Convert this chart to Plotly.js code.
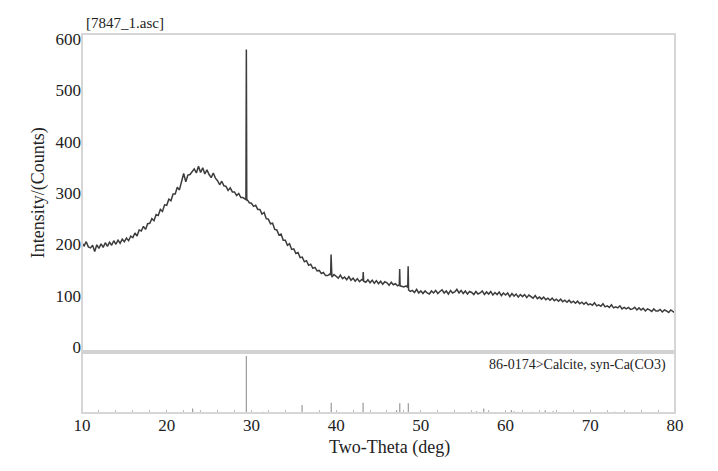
<!DOCTYPE html>
<html>
<head>
<meta charset="utf-8">
<script src="https://cdn.plot.ly/plotly-3.0.1.min.js"></script>
<style>html,body{margin:0;padding:0;background:#fff}#chart{width:718px;height:471px}</style>
</head>
<body>
<div id="chart"></div>
<script>
var twoTheta = [
  10,10.25,10.5,10.75, 11,11.25,11.5,11.75, 12,12.25,12.5,12.75, 13,13.25,13.5,13.75,
  14,14.25,14.5,14.75, 15,15.25,15.5,15.75, 16,16.25,16.5,16.75, 17,17.25,17.5,17.75,
  18,18.25,18.5,18.75, 19,19.25,19.5,19.75, 20,20.25,20.5,20.75, 21,21.25,21.5,21.75,
  22,22.25,22.5,22.75, 23,23.25,23.5,23.75, 24,24.25,24.5,24.75, 25,25.25,25.5,25.75,
  26,26.25,26.5,26.75, 27,27.25,27.5,27.75, 28,28.25,28.5,28.75,
  29,29.25,29.35,29.4,29.45,29.5,29.75,
  30,30.25,30.5,30.75, 31,31.25,31.5,31.75, 32,32.25,32.5,32.75, 33,33.25,33.5,33.75,
  34,34.25,34.5,34.75, 35,35.25,35.5,35.75, 36,36.25,36.5,36.75, 37,37.25,37.5,37.75,
  38,38.25,38.5,38.75,
  39,39.25,39.35,39.4,39.45,39.5,39.75,
  40,40.25,40.5,40.75, 41,41.25,41.5,41.75, 42,42.25,42.5,42.75,
  43,43.15,43.2,43.25,43.5,43.75,
  44,44.25,44.5,44.75, 45,45.25,45.5,45.75, 46,46.25,46.5,46.75,
  47,47.25,47.45,47.5,47.55,47.75,
  48,48.25,48.45,48.5,48.55,48.75,
  49,49.25,49.5,49.75, 50,50.25,50.5,50.75, 51,51.25,51.5,51.75, 52,52.25,52.5,52.75,
  53,53.25,53.5,53.75, 54,54.25,54.5,54.75, 55,55.25,55.5,55.75, 56,56.25,56.5,56.75,
  57,57.25,57.5,57.75, 58,58.25,58.5,58.75, 59,59.25,59.5,59.75, 60,60.25,60.5,60.75,
  61,61.25,61.5,61.75, 62,62.25,62.5,62.75, 63,63.25,63.5,63.75, 64,64.25,64.5,64.75,
  65,65.25,65.5,65.75, 66,66.25,66.5,66.75, 67,67.25,67.5,67.75, 68,68.25,68.5,68.75,
  69,69.25,69.5,69.75, 70,70.25,70.5,70.75, 71,71.25,71.5,71.75, 72,72.25,72.5,72.75,
  73,73.25,73.5,73.75, 74,74.25,74.5,74.75, 75,75.25,75.5,75.75, 76,76.25,76.5,76.75,
  77,77.25,77.5,77.75, 78,78.25,78.5,78.75, 79,79.25,79.5,79.75, 80];
var counts = [
  202,197,205,195, 193,198,186,199, 192,201,194,203, 196,204,198,207,
  200,208,202,210, 205,212,207,216, 213,222,216,228, 226,235,229,240,
  241,250,246,258, 256,268,264,277, 276,288,285,298, 298,311,306,322,
  338,322,335,336, 342,347,339,352, 340,349,337,345, 336,330,339,329,
  324,316,323,314, 313,305,310,302, 302,295,299,291,
  291,287,287,580,285,287,281,
  280,274,276,268, 268,259,262,250, 249,240,241,229, 228,218,220,208,
  208,198,201,190, 191,182,184,174, 175,166,168,159, 161,153,155,148,
  149,143,145,139,
  139,142,140,180,138,136,141,
  137,134,140,133, 136,131,137,130, 134,128,133,127,
  131,130,146,128,126,131,
  125,130,124,129, 123,128,122,127, 125,120,126,121,
  123,119,121,152,119,118,
  117,119,116,157,111,108,
  110,106,112,105, 109,104,109,105, 103,109,105,110, 104,108,111,105,
  109,103,110,105, 107,112,105,110, 104,109,103,108, 106,102,108,103,
  105,109,102,107, 103,108,101,106, 102,107,100,105, 101,105,98,104,
  99,103,97,102, 98,102,96,101, 98,95,100,94, 97,93,97,92,
  95,91,95,90, 93,89,93,88, 91,87,91,86, 89,85,89,84,
  87,83,87,82, 84,81,86,80, 82,79,84,78, 80,77,82,76,
  78,76,80,74, 77,74,77,73, 74,77,72,76, 72,75,70,74,
  72,69,74,70, 70,73,68,72, 70,67,72,68, 66];
// Reference pattern 86-0174 Calcite (2-theta, relative intensity)
var stickPos = [23.06,29.40,31.43,35.98,39.42,43.18,47.13,47.51,48.52,56.58,57.42,58.10,60.69,61.01,61.40,63.07,64.68,65.62,69.21,70.25,72.92,73.68,76.32,77.16];
var stickInt = [8,100,2,14,18,18,5,17,17,3,8,2,5,3,2,2,5,3,1,1,2,1,1,1];
var yTicks = [0,100,200,300,400,500,600];
var xTicks = [10,20,30,40,50,60,70,80];
var fileLabel = '[7847_1.asc]';
var refLabel = '86-0174>Calcite, syn-Ca(CO3)';

var serif = 'Liberation Serif';
var traces = [
  {type:'scatter', mode:'lines', x:twoTheta, y:counts, xaxis:'x', yaxis:'y',
   line:{color:'#3c3c3c', width:1.5}, hoverinfo:'x+y'},
  {type:'bar', x:stickPos, y:stickInt, xaxis:'x', yaxis:'y2', width:0.14,
   marker:{color:'#999', line:{width:0}}}
];
var layout = {
  width:718, height:471, showlegend:false,
  paper_bgcolor:'#fff', plot_bgcolor:'#fff',
  margin:{l:82, r:43, t:34, b:58},
  font:{family:serif, color:'#222', size:16},
  xaxis:{domain:[0,1], anchor:'y2', range:[10,80], tickvals:xTicks, ticks:'inside', ticklen:3,
    tickcolor:'#bbb', minor:{dtick:2, ticks:'inside', ticklen:3, tickcolor:'#bbb'},
    showgrid:false, zeroline:false, showline:false, tickfont:{family:serif, size:17, color:'#222'}},
  yaxis:{domain:[0.161,1], range:[-10,610], tickvals:yTicks, ticks:'', showgrid:false,
    zeroline:false, showline:false, tickfont:{family:serif, size:17, color:'#222'}},
  yaxis2:{domain:[0,0.161], range:[0,107], showticklabels:false, ticks:'', showgrid:false,
    zeroline:false, showline:false},
  shapes:[
    {type:'rect', xref:'paper', yref:'paper', x0:0, x1:1, y0:0.161, y1:1, line:{color:'#d6d6d6', width:2}},
    {type:'rect', xref:'paper', yref:'paper', x0:0, x1:1, y0:0, y1:0.161, line:{color:'#d6d6d6', width:2}},
    {type:'line', xref:'paper', yref:'paper', x0:0, x1:1, y0:0.161, y1:0.161, line:{color:'#d2d2d2', width:4}}
  ],
  annotations:[
    {text:fileLabel, xref:'paper', yref:'paper', x:0.004, y:1, xanchor:'left', yanchor:'bottom',
     yshift:1, showarrow:false, font:{family:serif, size:15, color:'#222'}},
    {text:refLabel, xref:'paper', yref:'paper', x:0.989, y:0.161, xanchor:'right', yanchor:'top',
     yshift:-3, showarrow:false, font:{family:serif, size:14, color:'#222'}},
    {text:'Intensity/(Counts)', xref:'paper', yref:'paper', x:0, y:0.58, xshift:-44, textangle:-90,
     xanchor:'center', yanchor:'middle', showarrow:false, font:{family:serif, size:18, color:'#222'}},
    {text:'Two-Theta (deg)', xref:'paper', yref:'paper', x:0.519, y:0, yshift:-34, xanchor:'center',
     yanchor:'middle', showarrow:false, font:{family:serif, size:18, color:'#222'}}
  ]
};
Plotly.newPlot('chart', traces, layout, {displayModeBar:false, staticPlot:true});
</script>
</body>
</html>
